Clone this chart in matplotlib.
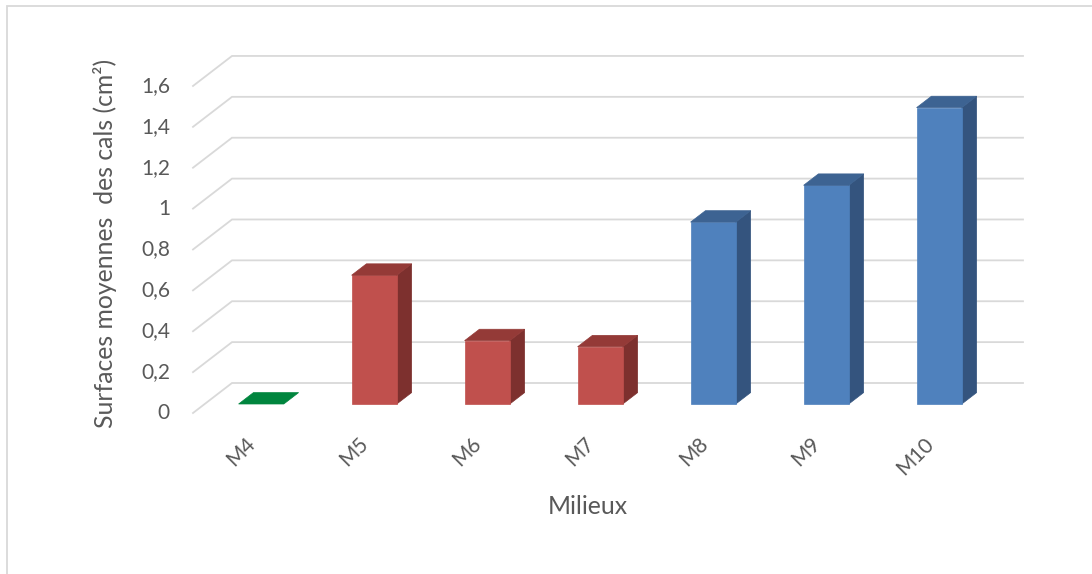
import matplotlib.pyplot as plt
from matplotlib.patches import Polygon, Rectangle

# data
categories = ['M4', 'M5', 'M6', 'M7', 'M8', 'M9', 'M10']
values = [0.0, 0.63, 0.31, 0.28, 0.89, 1.07, 1.45]
yticks = [0, 0.2, 0.4, 0.6, 0.8, 1.0, 1.2, 1.4, 1.6]
ytick_labels = ['0', '0,2', '0,4', '0,6', '0,8', '1', '1,2', '1,4', '1,6']
bar_series = ['green', 'red', 'red', 'red', 'blue', 'blue', 'blue']

# front, top, side shades
shades = {
    'green': ('#00853e', '#00853e', '#005c2b'),
    'red': ('#c0504d', '#943a37', '#7d302e'),
    'blue': ('#4f81bd', '#3d6392', '#34547e'),
}

W, H = 1092, 574
PX_X = 113.0   # pixels per category
PX_Y = 204.4   # pixels per value unit
DEPTH_PX = (-39, -30)   # floor depth, back -> front
DX = DEPTH_PX[0] / PX_X
DY = DEPTH_PX[1] / PX_Y
half_w = 0.2
d_back, d_front = 0.32, 0.70
txt = '#595959'
grid_c = '#d9d9d9'


def proj(x, v, d):
    # oblique projection: d=0 back wall, d=1 front edge of floor
    return (x + d * DX, v + d * DY)


plt.rcParams['font.family'] = ['Lato', 'DejaVu Sans']

fig = plt.figure(figsize=(W / 100, H / 100), dpi=100)
x0, x1 = -0.5 + DX, 6.55
y0, y1 = DY, 1.6
left_px, bottom_px = 193, 413
ax = fig.add_axes([left_px / W, (H - bottom_px) / H,
                   (x1 - x0) * PX_X / W, (y1 - y0) * PX_Y / H])
ax.set_xlim(x0, x1)
ax.set_ylim(y0, y1)
ax.axis('off')

# gridlines on the back wall plus the diagonal on the side wall
for v, lab in zip(yticks, ytick_labels):
    fx, fy = proj(-0.5, v, 1)
    bx, by = proj(-0.5, v, 0)
    ax.plot([fx, bx, 6.5], [fy, by, v], color=grid_c, lw=1.3,
            solid_joinstyle='miter', clip_on=False, zorder=1)
    ax.annotate(lab, (fx, fy), xytext=(-23, 0), textcoords='offset pixels',
                ha='right', va='center', fontsize=15, color=txt)

# 3d-looking columns
for i, (v, s) in enumerate(zip(values, bar_series)):
    front_c, top_c, side_c = shades[s]
    l, r = i - half_w, i + half_w
    side = [proj(r, 0, d_front), proj(r, 0, d_back),
            proj(r, v, d_back), proj(r, v, d_front)]
    top = [proj(l, v, d_front), proj(r, v, d_front),
           proj(r, v, d_back), proj(l, v, d_back)]
    front = [proj(l, 0, d_front), proj(r, 0, d_front),
             proj(r, v, d_front), proj(l, v, d_front)]
    if v > 0:
        ax.add_patch(Polygon(side, closed=True, fc=side_c, ec=side_c, lw=0.5, zorder=3))
        ax.add_patch(Polygon(front, closed=True, fc=front_c, ec=front_c, lw=0.5, zorder=4))
    ax.add_patch(Polygon(top, closed=True, fc=top_c, ec=top_c, lw=0.5, zorder=4))

    cx, cy = proj(i, 0, 1)
    ax.annotate(categories[i], (cx, cy), xytext=(3, -28), textcoords='offset pixels',
                ha='right', va='center', rotation=45, rotation_mode='anchor',
                fontsize=15, color=txt)

fig.text(105 / W, 1 - 243 / H, 'Surfaces moyennes  des cals (cm²)', rotation=90,
         ha='center', va='center', fontsize=17.8, color=txt)
fig.text(588 / W, 1 - 506 / H, 'Milieux', ha='center', va='center',
         fontsize=17.8, color=txt)

# chart area border (only top and left edges fall inside the picture)
fig.patches.append(Rectangle((7 / W, -0.2), 1.2, 1.2 - 6 / H, transform=fig.transFigure,
                             fill=False, ec=grid_c, lw=1.3))

fig.savefig('out.png', dpi=100)
